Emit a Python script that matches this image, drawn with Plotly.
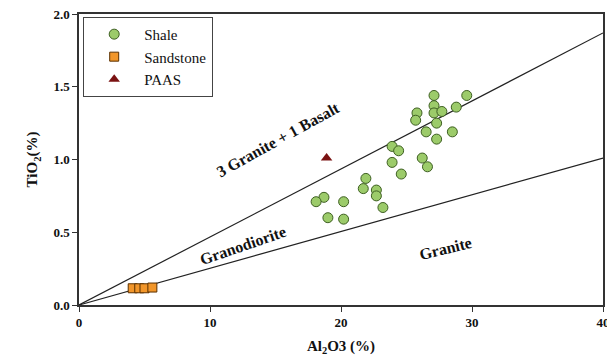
import plotly.graph_objects as go

# Shale samples
shale_al2o3 = [27.1, 29.6, 27.1, 25.8, 27.1, 27.7, 28.8, 25.7, 27.3, 26.5, 28.5, 27.3,
               23.9, 24.4, 26.2, 23.9, 26.6, 24.6, 21.9, 21.7, 22.7, 22.7, 18.7, 18.1,
               20.2, 23.2, 19.0, 20.2]
shale_tio2 = [1.44, 1.44, 1.37, 1.32, 1.32, 1.33, 1.36, 1.27, 1.25, 1.19, 1.19, 1.14,
              1.09, 1.06, 1.01, 0.98, 0.95, 0.90, 0.87, 0.80, 0.79, 0.75, 0.74, 0.71,
              0.71, 0.67, 0.60, 0.59]
# Sandstone samples
sand_al2o3 = [4.1, 4.6, 5.0, 5.6]
sand_tio2 = [0.115, 0.115, 0.115, 0.12]
# PAAS
paas_al2o3 = [18.9]
paas_tio2 = [1.01]
# Reference mixing lines
line_x = [0, 40]
basalt_line_y = [0, 1.87]
granite_line_y = [0, 1.01]
x_ticks = [0, 10, 20, 30, 40]
y_ticks = [0.0, 0.5, 1.0, 1.5, 2.0]

SERIF = "Liberation Serif, Times New Roman, serif"
INK = "#111111"

fig = go.Figure()
fig.add_trace(go.Scatter(x=line_x, y=basalt_line_y, mode="lines",
                         line=dict(color="#222222", width=1.2), showlegend=False, hoverinfo="skip"))
fig.add_trace(go.Scatter(x=line_x, y=granite_line_y, mode="lines",
                         line=dict(color="#222222", width=1.2), showlegend=False, hoverinfo="skip"))
fig.add_trace(go.Scatter(x=shale_al2o3, y=shale_tio2, mode="markers", name="Shale",
                         marker=dict(symbol="circle", size=10, color="#9CCB6A",
                                     line=dict(color="#3E5F22", width=1))))
fig.add_trace(go.Scatter(x=sand_al2o3, y=sand_tio2, mode="markers", name="Sandstone",
                         marker=dict(symbol="square", size=9, color="#F2962A",
                                     line=dict(color="#5A3000", width=1))))
fig.add_trace(go.Scatter(x=paas_al2o3, y=paas_tio2, mode="markers", name="PAAS",
                         marker=dict(symbol="triangle-up", size=10, color="#7A1212",
                                     line=dict(width=0))))

lab_font = dict(family=SERIF, size=16, color=INK)
fig.add_annotation(x=15.2, y=1.14, text="<b>3 Granite + 1 Basalt</b>", showarrow=False,
                   textangle=-29, font=lab_font)
fig.add_annotation(x=12.5, y=0.41, text="<b>Granodiorite</b>", showarrow=False,
                   textangle=-19, font=lab_font)
fig.add_annotation(x=28.0, y=0.385, text="<b>Granite</b>", showarrow=False,
                   textangle=-14, font=lab_font)
# y-axis title
fig.add_annotation(xref="paper", yref="paper", x=-0.109, y=0.5,
                   text="<b>TiO<sub>2</sub>(%)</b>", showarrow=False, textangle=-90,
                   font=dict(family=SERIF, size=15, color=INK))

fig.update_xaxes(range=[0, 40], tickvals=x_ticks, ticktext=["<b>%d</b>" % v for v in x_ticks],
                 showgrid=False, zeroline=False, showline=True, linecolor="#333333",
                 linewidth=1.5, mirror=True, ticks="outside", ticklen=5, tickcolor="#333333",
                 automargin=False, ticklabeloverflow="allow",
                 tickfont=dict(family=SERIF, size=13, color=INK),
                 title=dict(text="<b>Al<sub>2</sub>O3 (%)</b>", standoff=17,
                            font=dict(family=SERIF, size=15, color=INK)))
fig.update_yaxes(range=[0, 2.0], tickvals=y_ticks, ticktext=["<b>%.1f</b>" % v for v in y_ticks],
                 showgrid=False, zeroline=False, showline=True, linecolor="#333333",
                 linewidth=1.5, mirror=True, ticks="outside", ticklen=5, tickcolor="#333333",
                 automargin=False, ticklabeloverflow="allow",
                 tickfont=dict(family=SERIF, size=13, color=INK))

fig.update_layout(
    width=607, height=356,
    margin=dict(l=79, r=4, t=14, b=51),
    paper_bgcolor="white", plot_bgcolor="white",
    legend=dict(x=0.008, y=0.99, xanchor="left", yanchor="top",
                bordercolor="#444444", borderwidth=1, bgcolor="white",
                font=dict(family=SERIF, size=15, color=INK),
                tracegroupgap=0, itemwidth=50),
)

fig.write_html("out.html")
